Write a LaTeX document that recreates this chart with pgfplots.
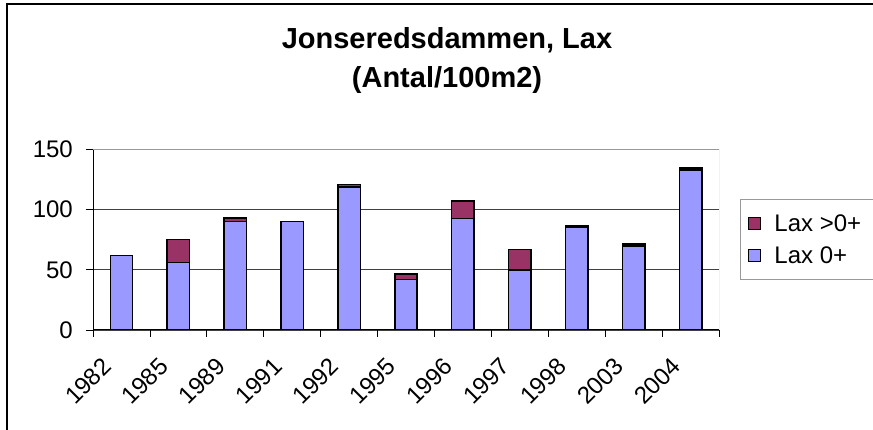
\documentclass[border=0pt]{standalone}
\usepackage{fontspec}
\setmainfont{Liberation Sans}
\usepackage{pgfplots}
\pgfplotsset{compat=1.18}
\definecolor{laxblue}{HTML}{9999FF}
\definecolor{laxred}{HTML}{993366}
\begin{document}
\begin{tikzpicture}[x=1pt,y=1pt]
\useasboundingbox (0,0) rectangle (873,430);
\draw[black, line width=1.5pt] (7,0) -- (7,426) -- (874,426);
\begin{axis}[
  at={(93pt,100pt)}, anchor=south west,
  scale only axis, width=626pt, height=180.5pt,
  ybar stacked, bar width=22.4pt,
  xmin=-0.5, xmax=10.5, ymin=0, ymax=150,
  xtick={0,...,10},
  xticklabels={1982,1985,1989,1991,1992,1995,1996,1997,1998,2003,2004},
  minor xtick={-0.5,0.5,...,10.5},
  ytick={0,50,100,150},
  ymajorgrids, grid style={black!75, line width=0.8pt},
  axis lines*=left, axis line style={-, black, line width=1pt},
  tick align=outside, major tick length=7pt, minor tick length=7pt,
  every major x tick/.append style={draw=none},
  tick style={black, line width=0.8pt},
  /pgf/number format/assume math mode=true,
  tick label style={font=\fontsize{24}{28}\selectfont},
  xticklabel style={xshift=-20.5pt, yshift=-19pt, rotate=45, anchor=north east, inner sep=0pt},
  yticklabel style={anchor=east, inner sep=0pt, xshift=-13pt},
  title={Jonseredsdammen, Lax\\(Antal/100m2)},
  title style={at={(0.5655,1.645)}, anchor=north, inner sep=0pt, align=center,
    font=\bfseries\fontsize{29}{39}\selectfont},
  legend style={at={(1.0335,0.726)}, anchor=north west, draw=gray!80, line width=1pt,
    font=\fontsize{24}{28}\selectfont, inner xsep=8pt, inner ysep=11pt, row sep=6pt,
    column sep=8pt, nodes={inner xsep=5pt, inner ysep=4pt},
    legend cell align=left},
  reverse legend,
]
\addplot[fill=laxblue, draw=black, line width=1.5pt,
  legend image code/.code={\draw[fill=laxblue, draw=black, line width=1pt] (0pt,-6pt) rectangle (12pt,6pt);}]
  coordinates {(0,62) (1,56) (2,90) (3,90) (4,119) (5,42) (6,92.5) (7,50) (8,85) (9,70) (10,133)};
\addplot[fill=laxred, draw=black, line width=1.5pt,
  legend image code/.code={\draw[fill=laxred, draw=black, line width=1pt] (0pt,-6pt) rectangle (12pt,6pt);}]
  coordinates {(0,0) (1,19) (2,3) (3,0) (4,2) (5,4.5) (6,14.5) (7,17) (8,1.5) (9,1.5) (10,1.5)};
\legend{Lax 0+, Lax >0+}
\draw[gray!80, line width=1pt] (rel axis cs:0,1) -- (rel axis cs:1,1) -- (rel axis cs:1,0);
\end{axis}
\end{tikzpicture}
\end{document}
